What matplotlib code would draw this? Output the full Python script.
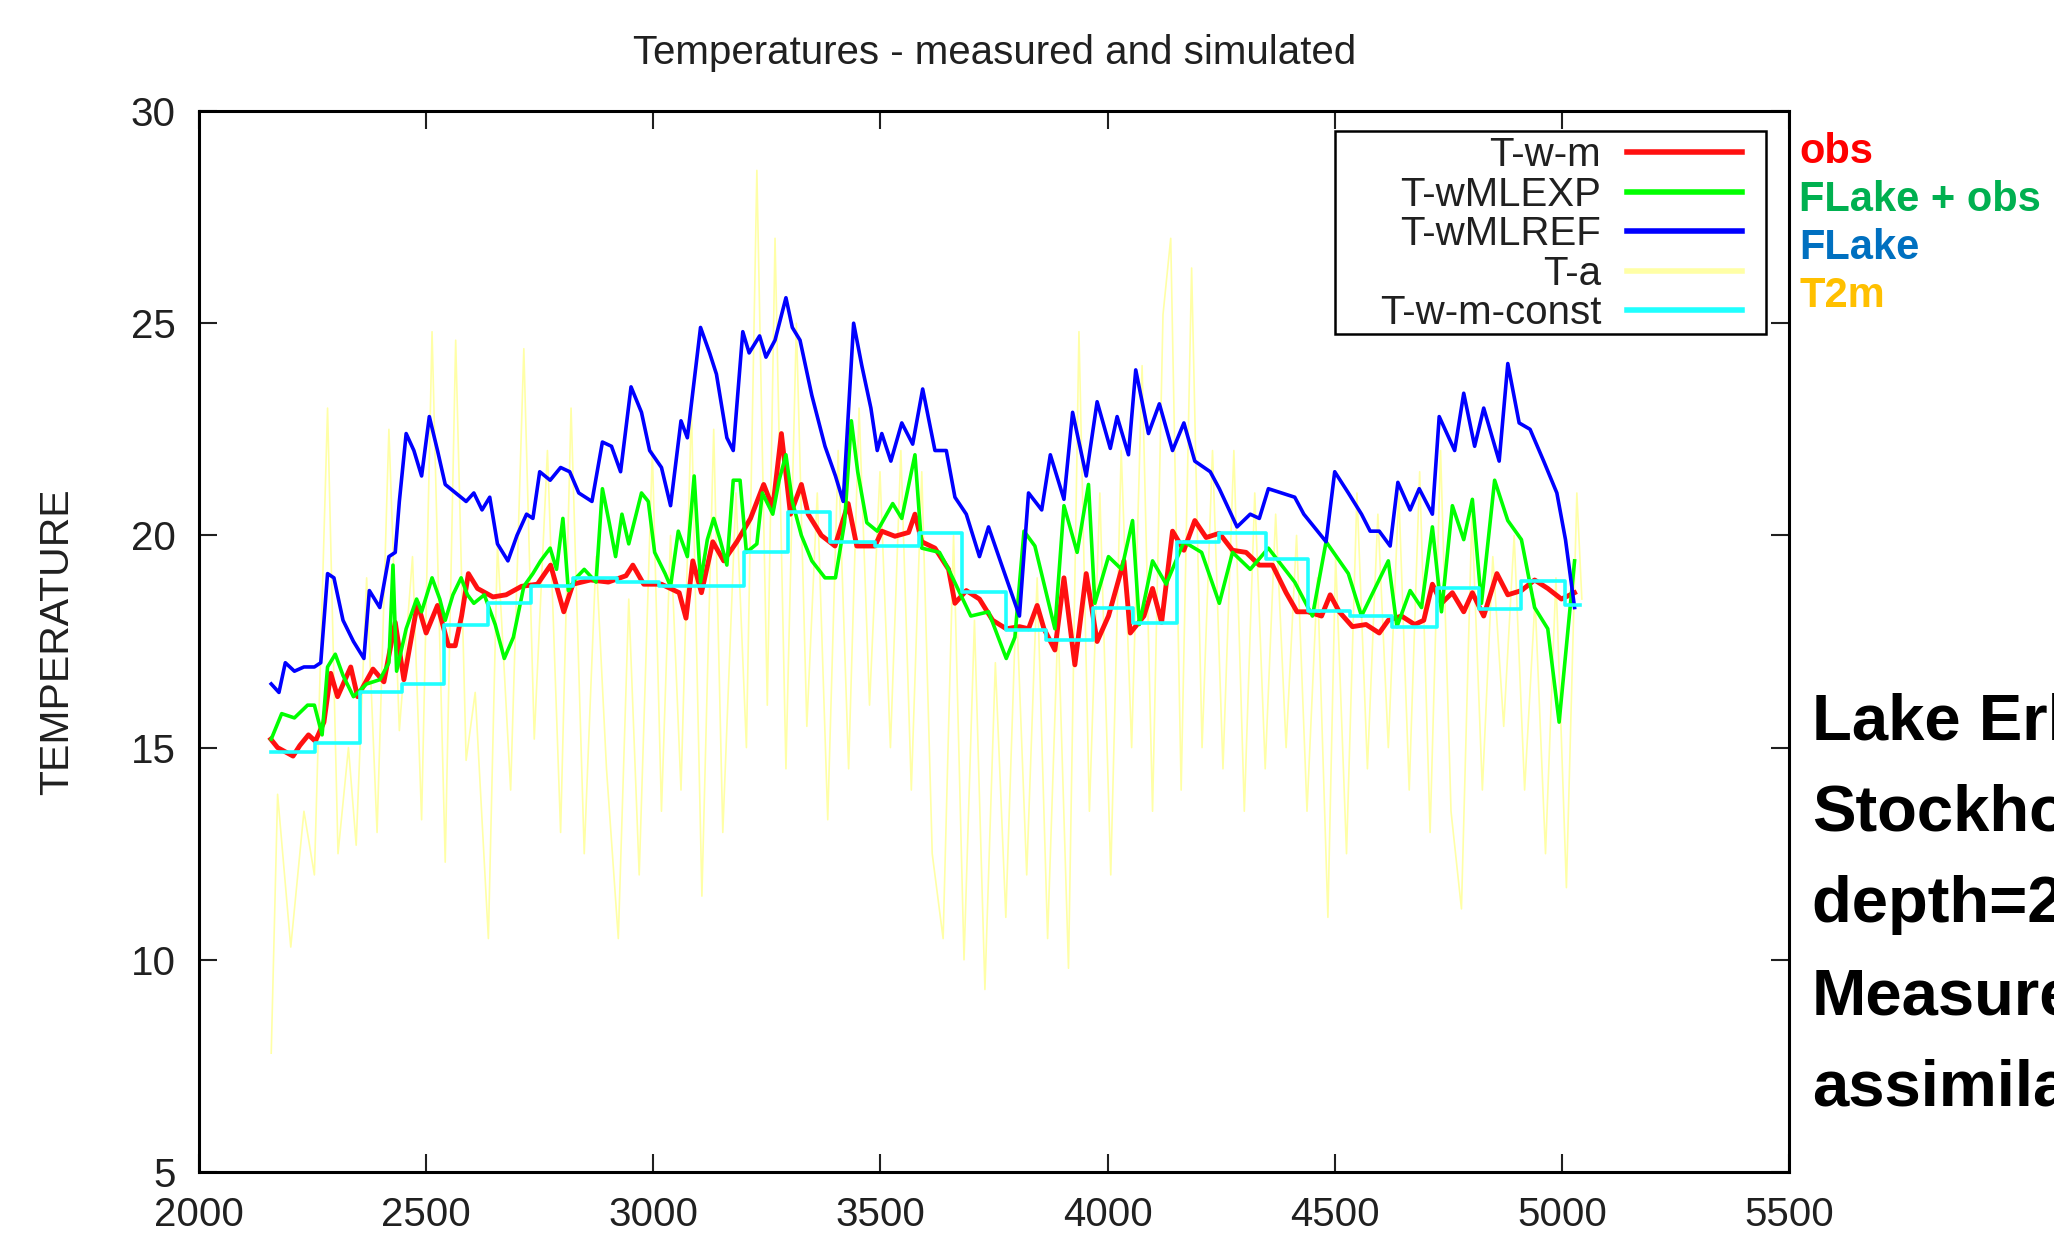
import matplotlib
matplotlib.use("Agg")
import matplotlib.pyplot as plt
from matplotlib.patches import Rectangle

plt.rcParams['font.family'] = ['Liberation Sans', 'DejaVu Sans']

# T-w-m (observed water temperature)
obs_x = [2158, 2173, 2207, 2222, 2241, 2256, 2275, 2290, 2305, 2334, 2349, 2383, 2407, 2432,
         2451, 2481, 2500, 2525, 2549, 2564, 2578, 2593, 2613, 2647, 2676, 2710, 2745, 2774,
         2803, 2823, 2862, 2901, 2940, 2955, 2979, 3018, 3057, 3072, 3087, 3106, 3131, 3155,
         3184, 3214, 3243, 3263, 3282, 3302, 3326, 3341, 3370, 3400, 3429, 3448, 3488,
         3503, 3532, 3562, 3576, 3591, 3620, 3650, 3664, 3689, 3718, 3747, 3777, 3806, 3826,
         3845, 3860, 3884, 3904, 3928, 3953, 3977, 4002, 4036, 4050, 4080, 4099, 4119, 4143,
         4168, 4192, 4217, 4246, 4275, 4305, 4334, 4363, 4393, 4417, 4441, 4471, 4490, 4510,
         4539, 4569, 4598, 4618, 4647, 4676, 4696, 4715, 4735, 4759, 4784, 4803, 4828, 4857,
         4881, 4911, 4940, 4969, 4999, 5028]
obs_t = [15.2, 15.0, 14.8, 15.05, 15.3, 15.15, 15.6, 16.75, 16.2, 16.9, 16.2, 16.85, 16.55, 17.95,
         16.6, 18.4, 17.7, 18.35, 17.4, 17.4, 18.1, 19.1, 18.75, 18.55, 18.6, 18.8, 18.85, 19.3,
         18.2, 18.85, 18.95, 18.9, 19.05, 19.3, 18.85, 18.85, 18.65, 18.05, 19.4, 18.65, 19.85, 19.4,
         19.85, 20.4, 21.2, 20.65, 22.4, 20.5, 21.2, 20.5, 20.0, 19.75, 20.75, 19.75, 19.75,
         20.1, 19.98, 20.07, 20.5, 19.85, 19.7, 19.2, 18.4, 18.7, 18.5, 18.0, 17.8, 17.85, 17.8,
         18.35, 17.8, 17.3, 19.0, 16.95, 19.1, 17.5, 18.1, 19.4, 17.7, 18.1, 18.75, 17.95, 20.1,
         19.65, 20.35, 19.95, 20.05, 19.65, 19.6, 19.3, 19.3, 18.65, 18.2, 18.2, 18.1, 18.6, 18.2,
         17.85, 17.9, 17.7, 18.0, 18.1, 17.9, 18.0, 18.85, 18.4, 18.65, 18.2, 18.65, 18.1, 19.1,
         18.6, 18.7, 18.95, 18.75, 18.5, 18.65]

# T-wMLEXP (FLake + obs)
exp_x = [2159, 2182, 2210, 2239, 2254, 2271, 2283, 2300, 2317, 2340, 2369, 2398, 2418, 2427,
         2435, 2456, 2479, 2490, 2513, 2530, 2542, 2559, 2577, 2591, 2605, 2628, 2652, 2672,
         2692, 2715, 2735, 2752, 2773, 2787, 2801, 2813, 2830, 2848, 2874, 2888, 2903, 2917,
         2931, 2946, 2974, 2989, 3003, 3026, 3038, 3055, 3075, 3090, 3104, 3119, 3133, 3147,
         3162, 3176, 3191, 3205, 3228, 3240, 3263, 3277, 3292, 3306, 3326, 3349, 3378, 3401,
         3421, 3436, 3450, 3470, 3493, 3527, 3547, 3576, 3591, 3630, 3650, 3699, 3738, 3777,
         3796, 3816, 3840, 3884, 3904, 3933, 3958, 3972, 4002, 4031, 4055, 4070, 4099, 4129,
         4168, 4207, 4246, 4275, 4314, 4354, 4412, 4451, 4481, 4530, 4559, 4618, 4637, 4666,
         4691, 4715, 4735, 4759, 4784, 4803, 4823, 4852, 4881, 4911, 4940, 4969, 4994, 5028]
exp_t = [15.2, 15.8, 15.7, 16.0, 16.0, 15.3, 16.9, 17.2, 16.7, 16.2, 16.5, 16.6, 17.0, 19.3,
         16.8, 17.8, 18.5, 18.2, 19.0, 18.5, 18.0, 18.6, 19.0, 18.6, 18.4, 18.6, 17.9, 17.1,
         17.6, 18.8, 19.1, 19.4, 19.7, 19.2, 20.4, 18.7, 19.0, 19.2, 18.9, 21.1, 20.3, 19.5,
         20.5, 19.8, 21.0, 20.8, 19.6, 19.1, 18.8, 20.1, 19.5, 21.4, 18.9, 19.9, 20.4, 19.9,
         19.3, 21.3, 21.3, 19.6, 19.8, 21.0, 20.5, 21.3, 21.9, 20.8, 20.0, 19.4, 19.0, 19.0,
         20.3, 22.7, 21.5, 20.3, 20.1, 20.75, 20.4, 21.9, 19.7, 19.6, 19.2, 18.1, 18.2, 17.1,
         17.6, 20.1, 19.75, 17.8, 20.7, 19.6, 21.2, 18.4, 19.5, 19.2, 20.35, 17.9, 19.4, 18.85,
         19.85, 19.6, 18.4, 19.6, 19.2, 19.7, 18.9, 18.1, 19.85, 19.1, 18.1, 19.4, 17.85, 18.7,
         18.3, 20.2, 18.2, 20.7, 19.9, 20.85, 18.4, 21.3, 20.35, 19.9, 18.3, 17.8, 15.6, 19.4]

# T-wMLREF (FLake)
ref_x = [2159, 2176, 2190, 2210, 2231, 2254, 2268, 2283, 2297, 2317, 2340, 2363, 2375, 2398,
         2418, 2432, 2441, 2456, 2473, 2490, 2507, 2525, 2542, 2565, 2588, 2605, 2623, 2640,
         2657, 2680, 2700, 2721, 2735, 2750, 2773, 2796, 2816, 2836, 2865, 2888, 2908, 2928,
         2951, 2974, 2992, 3018, 3038, 3061, 3075, 3104, 3124, 3139, 3162, 3176, 3197, 3211,
         3234, 3248, 3268, 3292, 3306, 3323, 3349, 3378, 3401, 3418, 3441, 3459, 3479, 3493,
         3503, 3523, 3547, 3571, 3593, 3620, 3645, 3664, 3689, 3718, 3738, 3767, 3806, 3826,
         3855, 3874, 3904, 3923, 3953, 3977, 4006, 4021, 4046, 4062, 4090, 4114, 4143, 4168,
         4192, 4226, 4246, 4285, 4314, 4334, 4354, 4383, 4412, 4432, 4481, 4500, 4530, 4559,
         4578, 4598, 4622, 4639, 4666, 4686, 4715, 4730, 4764, 4784, 4808, 4828, 4862, 4881,
         4906, 4930, 4960, 4989, 5008, 5028]
ref_t = [16.5, 16.3, 17.0, 16.8, 16.9, 16.9, 17.0, 19.1, 19.0, 18.0, 17.5, 17.1, 18.7, 18.3,
         19.5, 19.6, 20.8, 22.4, 22.0, 21.4, 22.8, 22.0, 21.2, 21.0, 20.8, 21.0, 20.6, 20.9,
         19.8, 19.4, 20.0, 20.5, 20.4, 21.5, 21.3, 21.6, 21.5, 21.0, 20.8, 22.2, 22.1, 21.5,
         23.5, 22.9, 22.0, 21.6, 20.7, 22.7, 22.3, 24.9, 24.3, 23.8, 22.3, 22.0, 24.8, 24.3,
         24.7, 24.2, 24.6, 25.6, 24.9, 24.6, 23.3, 22.1, 21.4, 20.8, 25.0, 24.0, 23.0, 22.0,
         22.4, 21.75, 22.65, 22.15, 23.45, 22.0, 22.0, 20.9, 20.5, 19.5, 20.2, 19.3, 18.1, 21.0,
         20.6, 21.9, 20.85, 22.9, 21.4, 23.15, 22.05, 22.8, 21.9, 23.9, 22.4, 23.1, 22.0, 22.65,
         21.75, 21.5, 21.1, 20.2, 20.5, 20.4, 21.1, 21.0, 20.9, 20.5, 19.85, 21.5, 21.0, 20.5,
         20.1, 20.1, 19.75, 21.25, 20.6, 21.1, 20.5, 22.8, 22.0, 23.35, 22.1, 23.0, 21.75, 24.05,
         22.65, 22.5, 21.75, 21.0, 19.9, 18.3]

# T-a (air temperature, T2m)
air_x = [2159, 2173, 2202, 2231, 2254, 2283, 2306, 2329, 2346, 2369, 2392, 2418, 2441, 2470,
         2490, 2513, 2542, 2565, 2588, 2608, 2637, 2657, 2686, 2715, 2738, 2767, 2796, 2819,
         2848, 2874, 2897, 2923, 2946, 2969, 2998, 3018, 3038, 3061, 3084, 3107, 3133, 3153,
         3182, 3205, 3228, 3251, 3268, 3292, 3315, 3338, 3361, 3384, 3407, 3430, 3453, 3476,
         3499, 3522, 3545, 3568, 3591, 3614, 3638, 3661, 3684, 3707, 3730, 3753, 3776, 3799,
         3822, 3845, 3868, 3891, 3914, 3937, 3960, 3983, 4007, 4030, 4053, 4076, 4099, 4122,
         4139, 4162, 4185, 4208, 4231, 4254, 4278, 4301, 4324, 4347, 4370, 4393, 4416, 4439,
         4462, 4485, 4502, 4526, 4549, 4572, 4595, 4618, 4641, 4664, 4687, 4710, 4733, 4756,
         4779, 4802, 4825, 4848, 4872, 4895, 4918, 4941, 4964, 4987, 5010, 5033, 5044]
air_t = [7.8, 13.9, 10.3, 13.5, 12.0, 23.0, 12.5, 15.0, 12.7, 19.0, 13.0, 22.5, 15.4, 19.5,
         13.3, 24.8, 12.3, 24.6, 14.7, 16.3, 10.5, 19.8, 14.0, 24.4, 15.2, 22.0, 13.0, 23.0,
         12.5, 19.5, 14.5, 10.5, 18.5, 12.0, 22.0, 13.5, 20.0, 14.0, 23.0, 11.5, 22.5, 13.0,
         21.0, 15.0, 28.6, 16.0, 27.0, 14.5, 25.0, 15.5, 21.0, 13.3, 22.0, 14.5, 23.0, 16.0,
         21.5, 15.0, 22.0, 14.0, 21.5, 12.5, 10.5, 20.0, 10.0, 18.0, 9.3, 17.0, 11.0, 18.5,
         12.0, 19.0, 10.5, 18.0, 9.8, 24.8, 13.5, 21.0, 12.0, 22.0, 15.0, 24.0, 13.5, 25.2,
         27.0, 14.0, 26.3, 15.0, 22.0, 14.5, 22.0, 13.5, 21.0, 14.5, 20.5, 15.0, 20.0, 13.5,
         19.0, 11.0, 19.5, 12.5, 21.0, 14.5, 20.5, 15.0, 21.0, 14.0, 21.5, 13.0, 22.0, 13.5,
         11.2, 20.5, 14.0, 19.5, 15.5, 20.0, 14.0, 18.5, 12.5, 19.0, 11.7, 21.0, 18.5]

# T-w-m-const (4-day constant steps)
const_x = [2158, 2256, 2354, 2446, 2539, 2637, 2730, 2823, 2920, 3013, 3106, 3199, 3297, 3390,
           3488, 3586, 3679, 3777, 3865, 3967, 4055, 4153, 4246, 4349, 4441, 4534, 4627, 4725,
           4818, 4911, 5008, 5040]
const_t = [14.9, 15.1, 16.3, 16.5, 17.9, 18.4, 18.8, 19.0, 18.9, 18.8, 18.8, 19.6, 20.55, 19.85,
           19.75, 20.05, 18.67, 17.76, 17.54, 18.3, 17.94, 19.85, 20.05, 19.44, 18.23, 18.1, 17.85,
           18.76, 18.26, 18.92, 18.35, 18.35]

x_ticks = [2000, 2500, 3000, 3500, 4000, 4500, 5000, 5500]
y_ticks = [5, 10, 15, 20, 25, 30]

side_labels = ['obs', 'FLake + obs', 'FLake', 'T2m']
side_colors = ['#FF0000', '#00B050', '#0070C0', '#FFC000']
info_lines = ['Lake Erken', 'Stockholm', 'depth=2 m', 'Measured', 'assimilated']

W, H = 2054, 1251
fig = plt.figure(figsize=(W / 100, H / 100), dpi=100)
ax = fig.add_axes([199 / W, 1 - 1172 / H, 1590 / W, 1061 / H])

l_air, = ax.plot(air_x, air_t, color='#FFFF80', lw=1.2, alpha=0.7, zorder=1, label='T-a')
l_obs, = ax.plot(obs_x, obs_t, color='#FF1010', lw=3.5, zorder=2, label='T-w-m')
l_exp, = ax.plot(exp_x, exp_t, color='#00FF00', lw=2.6, zorder=3, label='T-wMLEXP')
l_ref, = ax.plot(ref_x, ref_t, color='#0000FF', lw=2.6, zorder=4, label='T-wMLREF')
l_con, = ax.step(const_x, const_t, where='post', color='#20FFFF', lw=2.6, zorder=5,
                 label='T-w-m-const')

ax.set_xlim(2000, 5500)
ax.set_ylim(5, 30)
ax.set_xticks(x_ticks)
ax.set_yticks(y_ticks)
ax.tick_params(direction='in', top=True, right=True, length=13, width=1.5,
               labelsize=29, pad=17, colors='#202020')
for s in ax.spines.values():
    s.set_linewidth(2.2)

# legend box drawn separately, gnuplot style
box = Rectangle(((1335 - 199) / 1590, (1172 - 334) / 1061), 431 / 1590, 203 / 1061,
                transform=ax.transAxes, facecolor='white', edgecolor='black',
                linewidth=1.8, zorder=6)
ax.add_patch(box)

leg = ax.legend([l_obs, l_exp, l_ref, l_air, l_con],
                ['T-w-m', 'T-wMLEXP', 'T-wMLREF', 'T-a', 'T-w-m-const'],
                loc='upper right', bbox_to_anchor=((1742 - 199) / 1590, (1172 - 136) / 1061),
                borderaxespad=0, borderpad=0, frameon=False,
                markerfirst=False, fontsize=29, handlelength=2.85, handletextpad=0.65,
                labelspacing=0.04)
leg.set_zorder(7)
for h in leg.legend_handles:
    h.set_linewidth(4)
for t in leg.get_texts():
    t.set_color('#202020')

fig.text(995 / W, 1 - 53 / H, 'Temperatures - measured and simulated', fontsize=29,
         ha='center', va='center', color='#202020')
fig.text(57 / W, 1 - 642 / H, 'TEMPERATURE', fontsize=29.5, rotation=90,
         ha='center', va='center', color='#202020')

for i, (lab, col) in enumerate(zip(side_labels, side_colors)):
    fig.text(1799 / W, 1 - (152 + 48 * i) / H, lab, fontsize=30, fontweight='bold',
             color=col, ha='left', va='center')

for i, line in enumerate(info_lines):
    fig.text(1812 / W, 1 - (722 + 91.7 * i) / H, line, fontsize=47, fontweight='bold',
             color='black', ha='left', va='center')

fig.savefig('out.png', dpi=100)
